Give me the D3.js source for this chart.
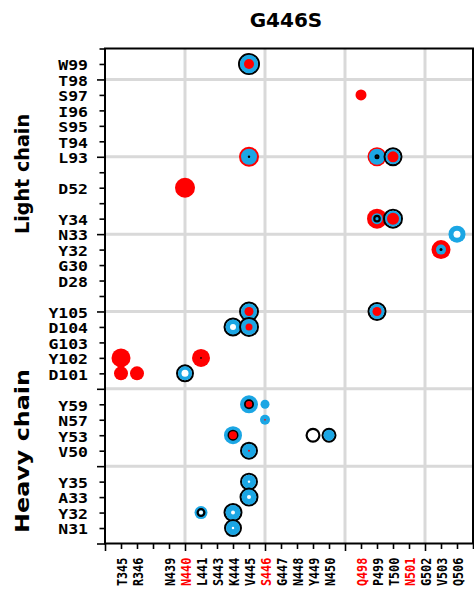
<!DOCTYPE html>
<html>
<head>
<meta charset="utf-8">
<script src="https://cdn.jsdelivr.net/npm/d3@7"></script>
<style>
  body { margin: 0; background: #fff; }
  svg { display: block; }
</style>
</head>
<body>
<svg id="chart" width="474" height="602"></svg>
<script>
// RBD residues along the x axis (blank entries are spacer slots)
const xResidues = ["", "T345", "R346", "", "N439", "N440", "L441", "S443", "K444", "V445",
  "S446", "G447", "N448", "Y449", "N450", "", "Q498", "P499", "T500", "N501", "G502",
  "V503", "Q506", ""];
const mutatedResidues = ["N440", "S446", "Q498", "N501"];

// Antibody residues, bottom to top (heavy chain rows 1-15, light chain rows 16-31)
const heavyRows = ["N31", "Y32", "A33", "Y35", "", "V50", "Y53", "N57", "Y59", "",
  "D101", "Y102", "G103", "D104", "Y105"];
const lightRows = ["", "D28", "G30", "Y32", "N33", "Y34", "", "D52", "", "L93", "T94",
  "S95", "I96", "S97", "T98", "W99"];

// Contact sites: [chain, antibody residue, RBD residue]
const sites = [
  ["L", "W99", "V445"], ["L", "S97", "Q498"], ["L", "L93", "V445"], ["L", "L93", "P499"],
  ["L", "L93", "T500"], ["L", "D52", "N440"], ["L", "Y34", "P499"], ["L", "Y34", "T500"],
  ["L", "N33", "Q506"], ["L", "Y32", "V503"],
  ["H", "Y105", "V445"], ["H", "Y105", "P499"], ["H", "D104", "K444"], ["H", "D104", "V445"],
  ["H", "Y102", "T345"], ["H", "D101", "T345"], ["H", "D101", "R346"], ["H", "Y102", "L441"],
  ["H", "D101", "N440"], ["H", "Y59", "V445"], ["H", "Y59", "S446"], ["H", "N57", "S446"],
  ["H", "Y53", "K444"], ["H", "V50", "V445"], ["H", "Y53", "Y449"], ["H", "Y53", "N450"],
  ["H", "Y35", "V445"], ["H", "A33", "V445"], ["H", "Y32", "L441"], ["H", "Y32", "K444"],
  ["H", "N31", "K444"]
];
// Marker sizes per site for each series (0 = absent)
const redSize  = [100, 121, 400, 361, 121, 400, 400, 144, 0, 361,
  81, 81, 0, 49, 361, 196, 196, 324, 0, 41, 0, 3, 64, 4, 0, 0, 0, 0, 0, 0, 0];
const blueSize = [339, 0, 256, 256, 225, 0, 121, 256, 289, 100,
  256, 225, 225, 256, 0, 0, 0, 0, 196, 324, 81, 100, 324, 196, 0, 121, 196, 225, 169, 225, 196];
const ringSize = [484, 0, 6, 25, 361, 0, 58, 400, 0, 9,
  400, 361, 361, 400, 0, 0, 0, 3, 324, 100, 0, 0, 121, 324, 225, 225, 324, 361, 81, 361, 324];
const holeSize = [0, 0, 0, 0, 0, 0, 0, 0, 49, 0,
  0, 0, 36, 0, 0, 0, 0, 0, 49, 0, 0, 0, 0, 0, 0, 0, 6, 16, 16, 16, 6];

const RED = "#ff0000", BLUE = "#1ba6e4", GRID = "#d9d9d9";

const svg = d3.select("#chart");
const plotLeft = 105, plotRight = 473, plotTop = 48.5, plotBottom = 543.5;

const x = d3.scaleLinear().domain([0, xResidues.length - 1]).range([plotLeft, plotRight]);
const nRows = 1 + heavyRows.length + lightRows.length; // 32
const y = d3.scaleLinear().domain([0, nRows]).range([plotBottom, plotTop]);
const r = d3.scaleSqrt().domain([0, 484]).range([0, 11]);

const rowLabel = i => {
  if (i >= 1 && i <= heavyRows.length) return heavyRows[i - 1];
  const j = i - 1 - heavyRows.length;
  if (j >= 0 && j < lightRows.length) return lightRows[j];
  return "";
};
const rowIndex = (chain, res) => chain === "H"
  ? 1 + heavyRows.indexOf(res)
  : 1 + heavyRows.length + lightRows.indexOf(res);
const colIndex = res => xResidues.indexOf(res);

// grid
const grid = svg.append("g");
grid.selectAll("line.v").data(d3.range(5, xResidues.length, 5)).join("line")
  .attr("class", "v")
  .attr("x1", d => x(d)).attr("x2", d => x(d)).attr("y1", plotTop).attr("y2", plotBottom)
  .attr("stroke", GRID).attr("stroke-width", 3);
grid.selectAll("line.h").data(d3.range(5, nRows, 5)).join("line")
  .attr("class", "h")
  .attr("y1", d => y(d)).attr("y2", d => y(d)).attr("x1", plotLeft).attr("x2", plotRight)
  .attr("stroke", GRID).attr("stroke-width", 3);

// markers
const marks = svg.append("g");
sites.forEach((s, i) => {
  const cx = x(colIndex(s[2])), cy = y(rowIndex(s[0], s[1]));
  const layers = [
    { kind: "red", v: redSize[i] }, { kind: "blue", v: blueSize[i] },
    { kind: "ring", v: ringSize[i] }, { kind: "hole", v: holeSize[i] }
  ].filter(l => l.v > 0).map(l => ({ ...l, rad: r(l.v) }))
   .sort((a, b) => b.rad - a.rad);
  const g = marks.append("g").attr("transform", `translate(${cx},${cy})`);
  layers.forEach(l => {
    const c = g.append("circle");
    if (l.kind === "ring") {
      const sw = 2.2;
      if (l.rad <= sw) c.attr("r", l.rad).attr("fill", "#000");
      else c.attr("r", l.rad - sw / 2).attr("fill", "none").attr("stroke", "#000").attr("stroke-width", sw);
    } else {
      c.attr("r", l.rad).attr("fill", l.kind === "red" ? RED : l.kind === "blue" ? BLUE : "#fff");
    }
  });
});

// y axis
const yAxis = svg.append("g").attr("transform", `translate(${plotLeft},0)`)
  .call(d3.axisLeft(y).tickValues(d3.range(0, nRows + 1)).tickSize(5).tickSizeOuter(0)
    .tickFormat(rowLabel));
yAxis.select(".domain").remove();
yAxis.selectAll(".tick line").attr("stroke", "#000").attr("stroke-width", 1.6)
  .attr("x2", d => d % 5 === 0 ? -8 : -5.5);
yAxis.selectAll(".tick text")
  .attr("x", -17).attr("dy", null).attr("y", 5.8)
  .attr("text-anchor", "end")
  .style("font-family", "'DejaVu Sans Mono', monospace").style("font-weight", "bold")
  .style("font-size", "14.6px").attr("fill", "#000")
  .each(function () {
    const t = d3.select(this).text();
    if (t) d3.select(this).attr("textLength", t.length * 9.9).attr("lengthAdjust", "spacingAndGlyphs");
  });

// x axis
const xAxis = svg.append("g").attr("transform", `translate(0,${plotBottom})`)
  .call(d3.axisBottom(x).tickValues(d3.range(0, xResidues.length)).tickSize(5).tickSizeOuter(0)
    .tickFormat(i => xResidues[i]));
xAxis.select(".domain").remove();
xAxis.selectAll(".tick line").attr("stroke", "#000").attr("stroke-width", 1.6)
  .attr("y2", d => d % 5 === 0 ? 7.5 : 5.5);
xAxis.selectAll(".tick text")
  .attr("transform", "rotate(-90)")
  .attr("x", -14.2).attr("y", 5.0).attr("dy", null)
  .attr("text-anchor", "end")
  .style("font-family", "'DejaVu Sans Mono', monospace").style("font-weight", "bold")
  .style("font-size", "13.8px")
  .attr("fill", d => mutatedResidues.includes(xResidues[d]) ? RED : "#000")
  .each(function () {
    const t = d3.select(this).text();
    if (t) d3.select(this).attr("textLength", t.length * 7.1).attr("lengthAdjust", "spacingAndGlyphs");
  });

// frame
svg.append("rect").attr("x", plotLeft).attr("y", plotTop)
  .attr("width", plotRight - plotLeft).attr("height", plotBottom - plotTop)
  .attr("fill", "none").attr("stroke", "#000").attr("stroke-width", 2);

// title and chain labels
svg.append("text").attr("x", 286).attr("y", 27.3).attr("text-anchor", "middle")
  .style("font-family", "'DejaVu Sans', sans-serif").style("font-weight", "bold")
  .style("font-size", "20px").text("G446S");

const chainLabel = (label, cy, len) => svg.append("text")
  .attr("transform", `translate(29,${cy}) rotate(-90)`).attr("text-anchor", "middle")
  .attr("textLength", len).attr("lengthAdjust", "spacingAndGlyphs")
  .style("font-family", "'DejaVu Sans', sans-serif").style("font-weight", "bold")
  .style("font-size", "18.8px").text(label);
chainLabel("Light chain", 174, 120);
chainLabel("Heavy chain", 451, 164);
</script>
</body>
</html>
